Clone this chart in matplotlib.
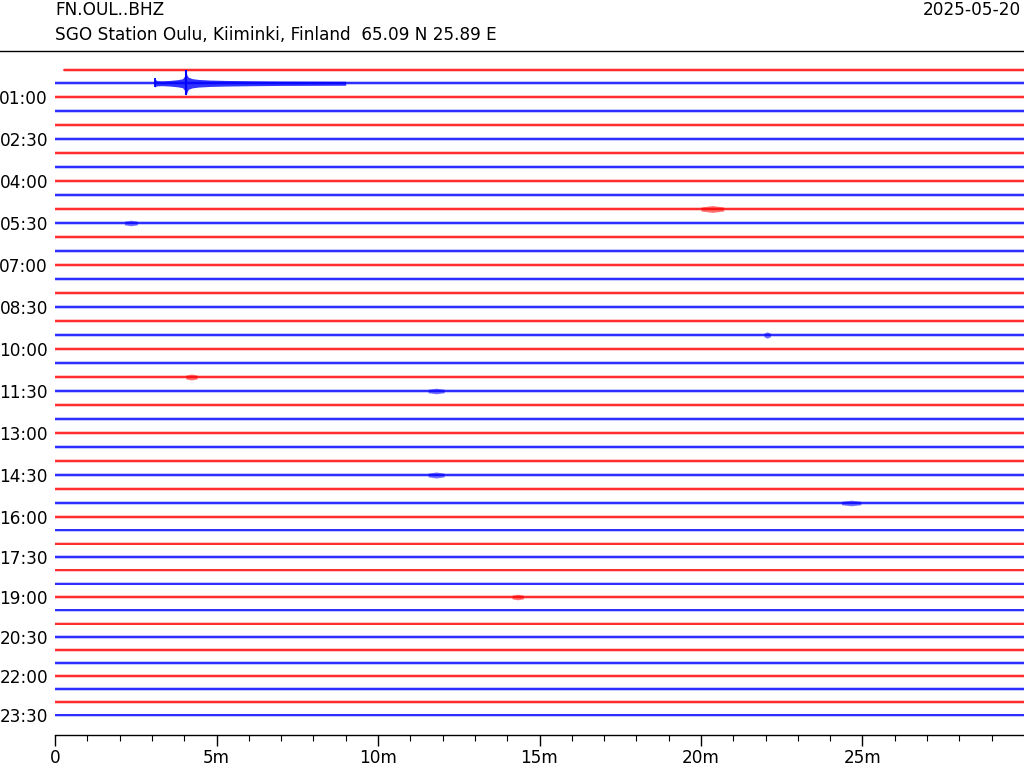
import numpy as np
import matplotlib
matplotlib.use("Agg")
import matplotlib.pyplot as plt
from matplotlib.lines import Line2D

# ---------------- data ----------------
station = "FN.OUL..BHZ"
description = "SGO Station Oulu, Kiiminki, Finland  65.09 N 25.89 E"
date_label = "2025-05-20"
n_rows = 48                      # 48 half-hour lines
row_minutes = 30
row_colors = ["#ff0000", "#0000ff"]   # alternating
ylabel_rows = list(range(2, 48, 3))
ylabel_texts = ["01:00", "02:30", "04:00", "05:30", "07:00", "08:30", "10:00",
                "11:30", "13:00", "14:30", "16:00", "17:30", "19:00", "20:30",
                "22:00", "23:30"]
xtick_major = [0, 5, 10, 15, 20, 25]
xtick_labels = ["0", "5m", "10m", "15m", "20m", "25m"]
xtick_minor = list(range(0, 30))

# start time (minutes) of data in each row (first row starts late)
row_start = [0.28] + [0.0] * 47
# background noise half-amplitude (px) per row
noise_amp = [2.0, 1.8, 2.0, 1.8, 1.9, 1.8, 1.9, 1.8, 1.9, 1.8,
             2.0, 1.8, 1.9, 1.8, 1.9, 1.8, 1.9, 1.8, 1.9, 1.8,
             1.9, 1.8, 1.9, 1.7, 1.9, 1.7, 1.9, 1.8, 1.9, 1.8,
             1.9, 1.7, 1.9, 1.7, 1.8, 1.7, 1.8, 1.6, 1.8, 1.6,
             1.8, 1.6, 1.7, 1.6, 1.7, 1.6, 1.6, 1.5]

# earthquake envelope on row 1 (00:30): time (min), up / down half-amplitude (px)
eq_row = 1
eq_t = [3.08, 3.10, 3.12, 3.16, 3.30, 3.55, 3.80, 3.95, 4.02, 4.05, 4.08,
        4.13, 4.25, 4.45, 4.80, 5.30, 6.00, 7.00, 9.00]
eq_up = [1.5, 5.0, 3.5, 2.6, 2.4, 2.8, 3.6, 4.5, 7.5, 13.0, 8.5,
         6.0, 4.6, 3.8, 3.2, 2.8, 2.5, 2.2, 2.0]
eq_dn = [1.5, 4.0, 3.0, 2.6, 2.4, 2.8, 3.6, 4.5, 7.5, 12.0, 9.5,
         6.0, 4.6, 3.8, 3.2, 2.8, 2.5, 2.2, 2.0]

# smaller bursts: row, start min, end min, peak half-amplitude (px)
burst_row = [10, 11, 22, 19, 23, 29, 31, 38]
burst_t0 = [20.0, 2.15, 4.05, 21.95, 11.55, 11.55, 24.35, 14.15]
burst_t1 = [20.7, 2.55, 4.4, 22.15, 12.05, 12.05, 24.95, 14.5]
burst_amp = [3.4, 2.8, 3.0, 3.2, 2.8, 3.0, 2.8, 2.8]

# ---------------- layout ----------------
# vertical position (px from top) of trace rows, anchored at the labelled rows
anchor_rows = [0, 2, 29, 32, 35, 38, 41, 44, 47]
anchor_px = [69.5, 97, 475, 517, 557, 597, 637, 676, 715]
row_y = np.interp(np.arange(n_rows), anchor_rows, anchor_px)

fig = plt.figure(figsize=(10.24, 7.68), dpi=100)
ax = fig.add_axes([55 / 1024, 1 - 735 / 768, 1 - 55 / 1024, (735 - 55) / 768])

for i in range(n_rows):
    c = row_colors[i % 2]
    t0 = row_start[i]
    a = noise_amp[i]
    y = row_y[i]
    ax.fill_between([t0, row_minutes], [y - a, y - a], [y + a, y + a],
                    color=c, alpha=0.22, lw=0)
    ax.plot([t0, row_minutes], [y, y], color=c, lw=1.1)

# earthquake
eq_c = row_colors[eq_row % 2]
ye = row_y[eq_row]
ax.fill_between(eq_t, [ye - u for u in eq_up], [ye + d for d in eq_dn],
                color=eq_c, alpha=0.8, lw=0)
ax.vlines([eq_t[1]], ye - eq_up[1], ye + eq_dn[1], color=eq_c, lw=1.3)
ax.vlines([eq_t[9]], ye - eq_up[9], ye + eq_dn[9], color=eq_c, lw=1.5)

for r, s, e, a in zip(burst_row, burst_t0, burst_t1, burst_amp):
    c = row_colors[r % 2]
    y = row_y[r]
    base = noise_amp[r]
    ax.fill_between([s, (s + e) / 2, e], [y - base, y - a, y - base],
                    [y + base, y + a, y + base], color=c, alpha=0.55, lw=0)

ax.set_xlim(0, 30)
ax.set_ylim(735, 55)

for s in ["top", "right", "left"]:
    ax.spines[s].set_visible(False)
ax.spines["bottom"].set_linewidth(1.0)

ax.set_xticks(xtick_major)
ax.set_xticklabels(xtick_labels, fontsize=12.2)
ax.set_xticks(xtick_minor, minor=True)
ax.tick_params(axis="x", which="major", length=8, width=1, pad=2)
ax.tick_params(axis="x", which="minor", length=4.3, width=0.8)

ax.set_yticks(row_y[ylabel_rows])
ax.set_yticklabels(ylabel_texts, fontsize=12.2)
ax.tick_params(axis="y", length=0, pad=5)

fig.text(55 / 1024, 1 - 10 / 768, station, fontsize=12.2, ha="left", va="center")
fig.text(55 / 1024, 1 - 35 / 768, description, fontsize=12.2, ha="left", va="center")
fig.text(1021 / 1024, 1 - 10 / 768, date_label, fontsize=12.2, ha="right", va="center")
fig.add_artist(Line2D([0, 1], [1 - 50.5 / 768, 1 - 50.5 / 768], color="black", lw=1.0,
                      transform=fig.transFigure))

fig.savefig("out.png", dpi=100)
